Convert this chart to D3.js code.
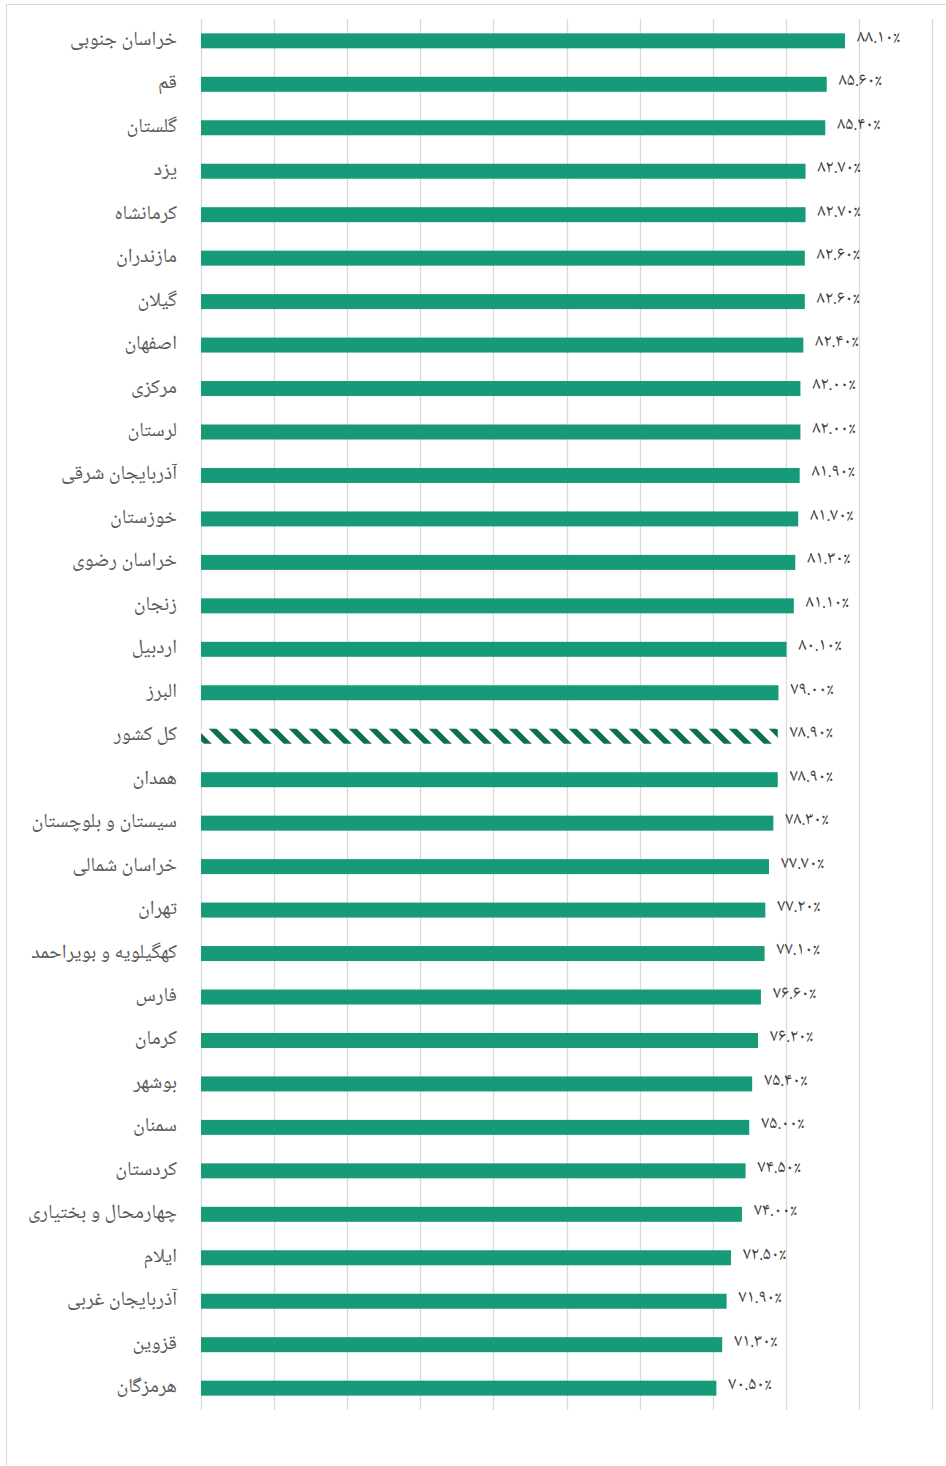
<!DOCTYPE html>
<html>
<head>
<meta charset="utf-8">
<script src="https://cdn.jsdelivr.net/npm/d3@7"></script>
<style>
  body { margin: 0; background: #fff; }
  svg { display: block; }
</style>
</head>
<body>
<div id="chart"></div>
<script>
// provinces, top to bottom
const provinces = [
  'خراسان جنوبی', 'قم', 'گلستان', 'یزد', 'کرمانشاه', 'مازندران', 'گیلان', 'اصفهان',
  'مرکزی', 'لرستان', 'آذربایجان شرقی', 'خوزستان', 'خراسان رضوی', 'زنجان', 'اردبیل', 'البرز',
  'کل کشور', 'همدان', 'سیستان و بلوچستان', 'خراسان شمالی', 'تهران', 'کهگیلویه و بویراحمد', 'فارس', 'کرمان',
  'بوشهر', 'سمنان', 'کردستان', 'چهارمحال و بختیاری', 'ایلام', 'آذربایجان غربی', 'قزوین', 'هرمزگان'
];
const values = [
  88.1, 85.6, 85.4, 82.7, 82.7, 82.6, 82.6, 82.4,
  82.0, 82.0, 81.9, 81.7, 81.3, 81.1, 80.1, 79.0,
  78.9, 78.9, 78.3, 77.7, 77.2, 77.1, 76.6, 76.2,
  75.4, 75.0, 74.5, 74.0, 72.5, 71.9, 71.3, 70.5
];
const totalLabel = 'کل کشور';
const gridTicks = [0, 10, 20, 30, 40, 50, 60, 70, 80, 90, 100];

const W = 946, H = 1466;
const margin = {top: 19, right: 14, bottom: 56, left: 201};
const persianFont = "'Noto Naskh Arabic', 'Noto Sans Arabic', 'DejaVu Sans', sans-serif";

const data = provinces.map((p, i) => ({name: p, value: values[i]}));

function toPersian(s) {
  return s.replace(/[0-9]/g, d => '۰۱۲۳۴۵۶۷۸۹'[+d]);
}

const svg = d3.select('#chart').append('svg')
  .attr('width', W)
  .attr('height', H);

// hatch for the national average bar
const defs = svg.append('defs');
const pat = defs.append('pattern')
  .attr('id', 'hatch')
  .attr('patternUnits', 'userSpaceOnUse')
  .attr('width', 20)
  .attr('height', 20)
  .attr('patternTransform', 'skewX(45)');
pat.append('rect').attr('width', 20).attr('height', 20).attr('fill', '#fff');
pat.append('rect').attr('width', 8).attr('height', 20).attr('fill', '#0c6e55');

// outer frame
svg.append('rect')
  .attr('x', 6.5).attr('y', 4.5)
  .attr('width', W + 10).attr('height', H + 10)
  .attr('fill', 'none')
  .attr('stroke', '#d9d9d9')
  .attr('stroke-width', 1);

const x = d3.scaleLinear()
  .domain([0, 100])
  .range([margin.left, 932]);

const y = d3.scaleBand()
  .domain(provinces)
  .range([margin.top, 1410])
  .paddingInner(0.655)
  .paddingOuter(0.33);

// vertical grid
svg.append('g')
  .selectAll('line')
  .data(gridTicks)
  .join('line')
    .attr('x1', d => Math.round(x(d)) + 0.5)
    .attr('x2', d => Math.round(x(d)) + 0.5)
    .attr('y1', margin.top)
    .attr('y2', 1410)
    .attr('stroke', '#d9d9d9')
    .attr('stroke-width', 1.3);

// bars
svg.append('g')
  .selectAll('rect')
  .data(data)
  .join('rect')
    .attr('x', x(0))
    .attr('y', d => y(d.name))
    .attr('width', d => x(d.value) - x(0))
    .attr('height', y.bandwidth())
    .attr('fill', d => d.name === totalLabel ? 'url(#hatch)' : '#169a78');

// category labels
svg.append('g')
  .selectAll('text')
  .data(data)
  .join('text')
    .attr('x', 177)
    .attr('y', d => y(d.name) + y.bandwidth() / 2)
    .attr('dy', '0.2em')
    .attr('text-anchor', 'end')
    .style('font-family', persianFont)
    .style('font-size', '20px')
    .style('fill', '#595959')
    .text(d => d.name);

// value labels
svg.append('g')
  .selectAll('text')
  .data(data)
  .join('text')
    .attr('x', d => x(d.value) + 12)
    .attr('y', d => y(d.name) + y.bandwidth() / 2)
    .attr('dy', '0.05em')
    .attr('direction', 'ltr')
    .style('font-family', persianFont)
    .style('font-size', '18px')
    .style('fill', '#404040')
    .text(d => toPersian(d.value.toFixed(2)) + '٪');
</script>
</body>
</html>
